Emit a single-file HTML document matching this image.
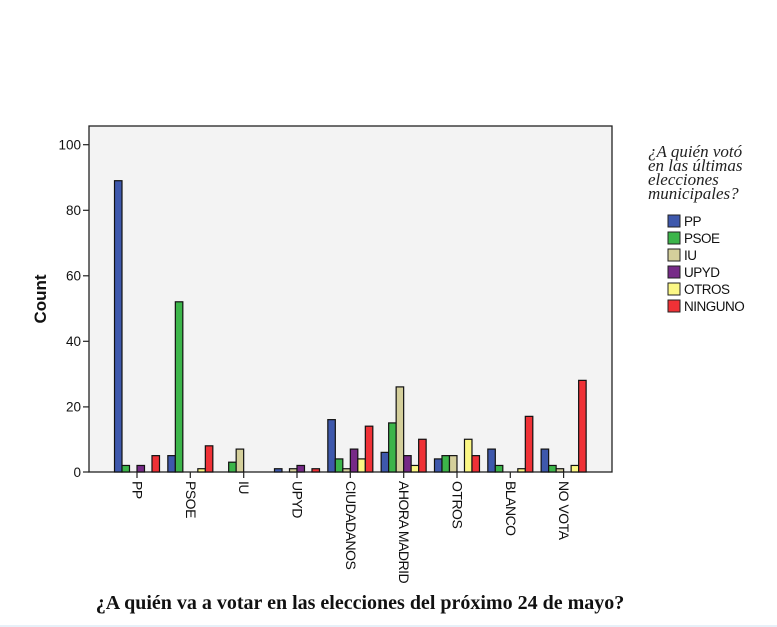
<!DOCTYPE html>
<html><head><meta charset="utf-8"><style>
html,body{margin:0;padding:0;background:#fff;}
svg{display:block;}
</style></head><body>
<svg id="s" width="777" height="627" xmlns="http://www.w3.org/2000/svg">
<rect x="89" y="126" width="523" height="346" fill="#f3f3f3" stroke="#222" stroke-width="1.3"/>
<g id="bars"></g>
<g stroke="#222" stroke-width="1.2">
<line x1="83" y1="144.7" x2="89" y2="144.7"/><line x1="83" y1="210.3" x2="89" y2="210.3"/>
<line x1="83" y1="275.8" x2="89" y2="275.8"/><line x1="83" y1="341.3" x2="89" y2="341.3"/>
<line x1="83" y1="406.9" x2="89" y2="406.9"/><line x1="83" y1="472" x2="89" y2="472"/>
<line x1="137" y1="472" x2="137" y2="478"/><line x1="190.3" y1="472" x2="190.3" y2="478"/>
<line x1="243.7" y1="472" x2="243.7" y2="478"/><line x1="297" y1="472" x2="297" y2="478"/>
<line x1="350.3" y1="472" x2="350.3" y2="478"/><line x1="403.7" y1="472" x2="403.7" y2="478"/>
<line x1="457" y1="472" x2="457" y2="478"/><line x1="510.3" y1="472" x2="510.3" y2="478"/>
<line x1="563.6" y1="472" x2="563.6" y2="478"/>
</g>
<g font-family="Liberation Sans, sans-serif" font-size="13.5" fill="#111" text-anchor="end">
<text x="81" y="149.5">100</text><text x="81" y="215">80</text><text x="81" y="280.5">60</text>
<text x="81" y="346">40</text><text x="81" y="411.5">20</text><text x="81" y="477">0</text>
</g>
<text transform="translate(46,299) rotate(-90)" font-family="Liberation Sans, sans-serif" font-size="17" font-weight="bold" text-anchor="middle" fill="#111">Count</text>
<g font-family="Liberation Sans, sans-serif" font-size="14" fill="#111" letter-spacing="-0.5">
<text transform="translate(132.5,481) rotate(90)">PP</text>
<text transform="translate(185.8,481) rotate(90)">PSOE</text>
<text transform="translate(239.2,481) rotate(90)">IU</text>
<text transform="translate(292.5,481) rotate(90)">UPYD</text>
<text transform="translate(345.8,481) rotate(90)">CIUDADANOS</text>
<text transform="translate(399.2,481) rotate(90)">AHORA MADRID</text>
<text transform="translate(452.5,481) rotate(90)">OTROS</text>
<text transform="translate(505.8,481) rotate(90)">BLANCO</text>
<text transform="translate(559.1,481) rotate(90)">NO VOTA</text>
</g>
<text x="360" y="609" font-family="Liberation Serif, serif" font-size="20" font-weight="bold" text-anchor="middle" fill="#111">¿A quién va a votar en las elecciones del próximo 24 de mayo?</text>
<g font-family="Liberation Serif, serif" font-style="italic" font-size="17" fill="#222">
<text x="648" y="157">¿A quién votó</text>
<text x="648" y="171">en las últimas</text>
<text x="648" y="185">elecciones</text>
<text x="648" y="199">municipales?</text>
</g>
<g stroke="#222" stroke-width="1">
<rect x="668" y="215" width="12" height="12" fill="#3e58ac"/>
<rect x="668" y="232" width="12" height="12" fill="#3cb54a"/>
<rect x="668" y="249" width="12" height="12" fill="#d4cf9b"/>
<rect x="668" y="266" width="12" height="12" fill="#762a87"/>
<rect x="668" y="283" width="12" height="12" fill="#fbf785"/>
<rect x="668" y="300" width="12" height="12" fill="#ef3136"/>
</g>
<g font-family="Liberation Sans, sans-serif" font-size="13.5" fill="#111" letter-spacing="-0.5">
<text x="684" y="226">PP</text><text x="684" y="243">PSOE</text><text x="684" y="260">IU</text>
<text x="684" y="277">UPYD</text><text x="684" y="294">OTROS</text><text x="684" y="311">NINGUNO</text>
</g>
<line x1="0" y1="626" x2="777" y2="626" stroke="#cfe0f0" stroke-width="1"/>
</svg>
<script>
var d=[[89,2,0,2,0,5],[5,52,0,0,1,8],[0,3,7,0,0,0],[1,0,1,2,0,1],[16,4,1,7,4,14],[6,15,26,5,2,10],[4,5,5,0,10,5],[7,2,0,0,1,17],[7,2,1,0,2,28]];
var c=["#3e58ac","#3cb54a","#d4cf9b","#762a87","#fbf785","#ef3136"];
var g=document.getElementById("bars"),ns="http://www.w3.org/2000/svg";
for(var i=0;i<9;i++)for(var j=0;j<6;j++){var v=d[i][j];if(!v)continue;var h=v*3.273;
var r=document.createElementNS(ns,"rect");r.setAttribute("x",114.5+53.33*i+7.5*j);r.setAttribute("y",472-h);
r.setAttribute("width",7.5);r.setAttribute("height",h);r.setAttribute("fill",c[j]);r.setAttribute("stroke","#111");r.setAttribute("stroke-width","1.2");g.appendChild(r);}
</script>
</body></html>
